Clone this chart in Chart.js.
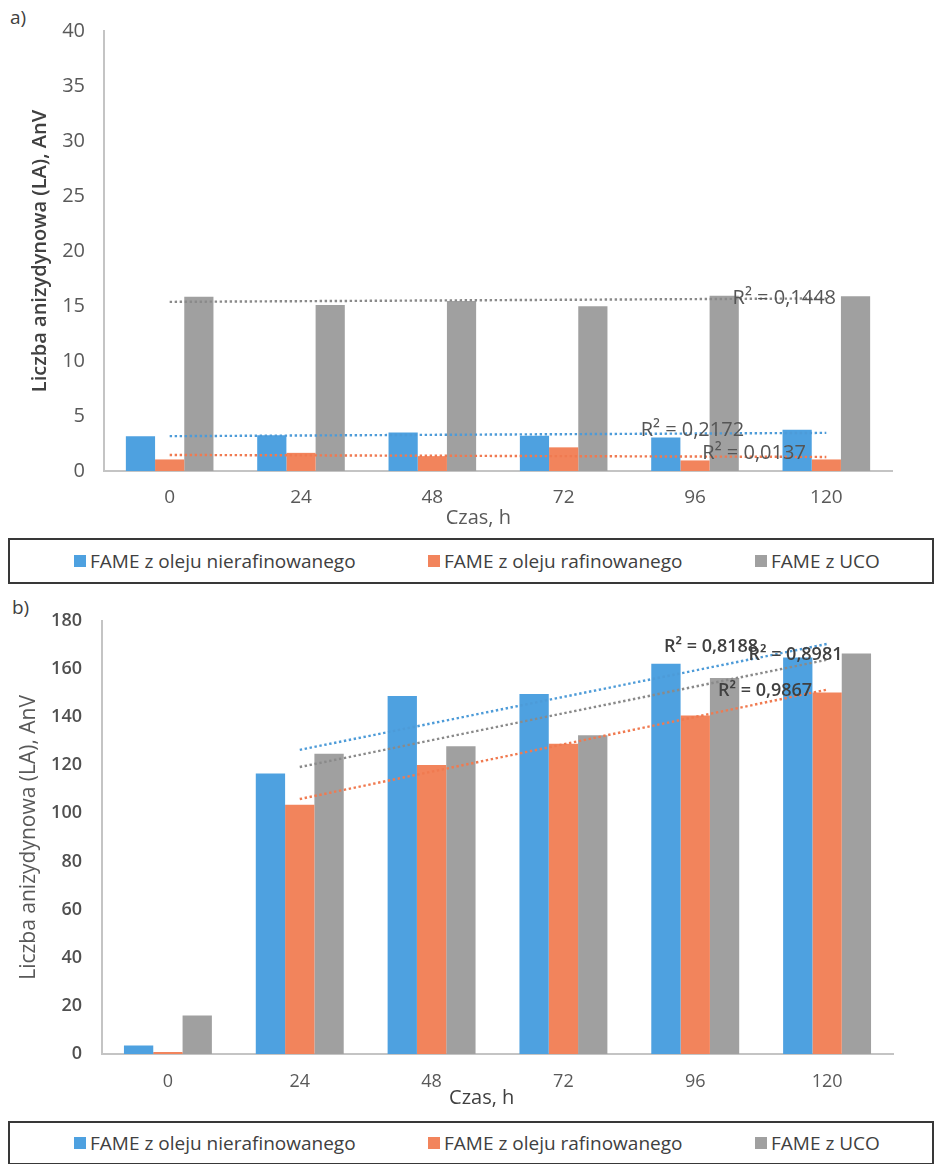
<!DOCTYPE html>
<html lang="pl">
<head>
<meta charset="utf-8">
<title>Liczba anizydynowa FAME</title>
<script src="https://cdn.jsdelivr.net/npm/chart.js@4/dist/chart.umd.min.js"></script>
<style>
  html, body { margin: 0; padding: 0; background: #fff; }
  body { width: 936px; height: 1164px; position: relative; overflow: hidden; font-family: "Open Sans", sans-serif; }
  .panel { position: absolute; left: 0; }
  .tag { position: absolute; font-size: 19px; color: #404040; line-height: 24px; }
  .legend { position: absolute; left: 8px; width: 926px; box-sizing: border-box; border: 2.5px solid #383838; background: #fff; }
  .item { position: absolute; top: 50%; transform: translateY(-50%); display: flex; align-items: center; font-size: 19px; color: #404040; white-space: nowrap; line-height: 24px; }
  .sw { width: 12px; height: 12px; margin-right: 4px; flex: none; }
</style>
</head>
<body>
<div class="tag" style="left:10px; top:5px;">a)</div>
<div class="panel" style="top:0; width:936px; height:530px;"><canvas id="chartA" width="936" height="530"></canvas></div>
<div class="legend" id="legendA" style="top:538px; height:46px;"></div>

<div class="tag" style="left:12px; top:595px;">b)</div>
<div class="panel" style="top:590px; width:936px; height:528px;"><canvas id="chartB" width="936" height="528"></canvas></div>
<div class="legend" id="legendB" style="top:1121px; height:44px;"></div>

<script>
// Time points (h)
const categories = ['0', '24', '48', '72', '96', '120'];
const seriesNames = ['FAME z oleju nierafinowanego', 'FAME z oleju rafinowanego', 'FAME z UCO'];
const seriesColors = ['#4ea1e0', '#f2845c', '#a0a0a0'];
const trendColors = ['#4d9bd8', '#f07a50', '#8a8a8a'];

// a) anisidine value, early range
const aUnrefined = [3.15, 3.25, 3.5, 3.2, 3.05, 3.75];
const aRefined   = [1.05, 1.65, 1.35, 2.15, 0.96, 1.05];
const aUco       = [15.85, 15.1, 15.45, 14.98, 15.94, 15.88];
const aR2Labels  = ['R² = 0,2172', 'R² = 0,0137', 'R² = 0,1448'];
const aAxisMax = 40, aAxisStep = 5;

// b) anisidine value, full range
const bUnrefined = [3.5, 116.5, 148.8, 149.6, 162.2, 164.8];
const bRefined   = [0.8, 103.6, 120.1, 128.9, 140.6, 150.2];
const bUco       = [16.0, 124.8, 127.9, 132.4, 156.2, 166.4];
const bR2Labels  = ['R² = 0,8188', 'R² = 0,9867', 'R² = 0,8981'];
const bAxisMax = 180, bAxisStep = 20;

const yTitle = 'Liczba anizydynowa (LA), AnV';
const xTitle = 'Czas, h';

// least-squares line through the points from index `from` onwards
function linearTrend(values, from) {
  const xs = [], ys = [];
  for (let i = from; i < values.length; i++) { xs.push(i); ys.push(values[i]); }
  const n = xs.length;
  const mx = xs.reduce((s, v) => s + v, 0) / n;
  const my = ys.reduce((s, v) => s + v, 0) / n;
  let sxy = 0, sxx = 0;
  for (let k = 0; k < n; k++) { sxy += (xs[k] - mx) * (ys[k] - my); sxx += (xs[k] - mx) ** 2; }
  const slope = sxy / sxx, icpt = my - slope * mx;
  return values.map((_, i) => (i < from ? null : icpt + slope * i));
}

// draws R² notes and the horizontal axis title
const notesPlugin = {
  id: 'notes',
  afterDatasetsDraw(chart, args, opts) {
    const { ctx, chartArea } = chart;
    const xs = chart.scales.x, ys = chart.scales.y;
    const idxToPx = (f) => {
      const i0 = Math.floor(f), p0 = xs.getPixelForValue(i0), p1 = xs.getPixelForValue(i0 + 1);
      return p0 + (p1 - p0) * (f - i0);
    };
    ctx.save();
    ctx.textAlign = 'center';
    ctx.textBaseline = 'middle';
    (opts.labels || []).forEach(l => {
      ctx.font = l.font;
      ctx.fillStyle = l.color;
      ctx.fillText(l.text, idxToPx(l.at), ys.getPixelForValue(l.value));
    });
    if (opts.xTitle) {
      const t = opts.xTitle;
      ctx.font = t.font;
      ctx.fillStyle = t.color;
      ctx.fillText(t.text, idxToPx(t.at), chartArea.bottom + t.dy);
    }
    ctx.restore();
  }
};

function buildChart(canvasId, series, trendFrom, axisMax, axisStep, look) {
  const datasets = [];
  series.forEach((vals, k) => {
    datasets.push({
      type: 'bar', label: seriesNames[k], data: vals,
      backgroundColor: seriesColors[k], borderWidth: 0,
      categoryPercentage: 0.667, barPercentage: 1.0, order: 2
    });
  });
  series.forEach((vals, k) => {
    datasets.push({
      type: 'line', label: 'trend ' + seriesNames[k], data: linearTrend(vals, trendFrom),
      borderColor: trendColors[k], borderWidth: 2.4, borderDash: [2.4, 2.6],
      pointRadius: 0, fill: false, tension: 0, order: 1
    });
  });
  return new Chart(document.getElementById(canvasId), {
    type: 'bar',
    data: { labels: categories, datasets },
    options: {
      responsive: false, animation: false, devicePixelRatio: 1,
      layout: { padding: look.padding },
      plugins: {
        legend: { display: false }, tooltip: { enabled: false },
        notes: { labels: look.notes, xTitle: look.xTitle }
      },
      scales: {
        x: {
          grid: { display: false, drawTicks: false },
          border: { display: true, color: '#c4c4c4', width: 2 },
          ticks: { color: look.xTickColor, font: look.xTickFont, padding: look.xTickPad },
          afterFit: s => { s.height = look.xHeight; }
        },
        y: {
          min: 0, max: axisMax,
          grid: { display: false, drawTicks: false },
          border: { display: true, color: '#c4c4c4', width: 2 },
          ticks: { stepSize: axisStep, color: look.yTickColor, font: look.yTickFont, padding: look.yTickPad },
          title: { display: true, text: yTitle, color: look.yTitleColor, font: look.yTitleFont, padding: 0 },
          afterFit: s => { s.width = look.yWidth; }
        }
      }
    },
    plugins: [notesPlugin]
  });
}

const fam = '"Open Sans", sans-serif';

buildChart('chartA', [aUnrefined, aRefined, aUco], 0, aAxisMax, aAxisStep, {
  padding: { left: 28, top: 25, right: 44, bottom: 0 },
  yWidth: 76, xHeight: 59,
  xTickFont: { family: fam, size: 19 }, xTickColor: '#595959', xTickPad: 15,
  yTickFont: { family: fam, size: 20 }, yTickColor: '#595959', yTickPad: 19,
  yTitleFont: { family: fam, size: 20, weight: '600', lineHeight: 1.2 }, yTitleColor: '#404040',
  xTitle: { text: xTitle, at: 2.35, dy: 47, font: '20px ' + fam, color: '#595959' },
  notes: [
    { text: aR2Labels[0], at: 3.98, value: 3.66, font: '20px ' + fam, color: '#555555' },
    { text: aR2Labels[1], at: 4.45, value: 1.62, font: '20px ' + fam, color: '#555555' },
    { text: aR2Labels[2], at: 4.68, value: 15.7, font: '20px ' + fam, color: '#555555' }
  ]
});

buildChart('chartB', [bUnrefined, bRefined, bUco], 1, bAxisMax, bAxisStep, {
  padding: { left: 16, top: 18, right: 43, bottom: 0 },
  yWidth: 86, xHeight: 64,
  xTickFont: { family: fam, size: 18 }, xTickColor: '#595959', xTickPad: 17,
  yTickFont: { family: fam, size: 18, weight: '600' }, yTickColor: '#505050', yTickPad: 20,
  yTitleFont: { family: fam, size: 21, lineHeight: 1.2 }, yTitleColor: '#595959',
  xTitle: { text: xTitle, at: 2.38, dy: 44, font: '20px ' + fam, color: '#404040' },
  notes: [
    { text: bR2Labels[0], at: 4.12, value: 169.1, font: '600 18px ' + fam, color: '#404040' },
    { text: bR2Labels[1], at: 4.53, value: 150.9, font: '600 18px ' + fam, color: '#404040' },
    { text: bR2Labels[2], at: 4.76, value: 165.9, font: '600 18px ' + fam, color: '#404040' }
  ]
});

// legend boxes under each panel
const itemLeft = [64, 418, 745];
function buildLegend(id) {
  const box = document.getElementById(id);
  seriesNames.forEach((name, k) => {
    const it = document.createElement('div');
    it.className = 'item';
    it.style.left = itemLeft[k] + 'px';
    const sw = document.createElement('span');
    sw.className = 'sw';
    sw.style.background = seriesColors[k];
    const tx = document.createElement('span');
    tx.textContent = name;
    it.appendChild(sw);
    it.appendChild(tx);
    box.appendChild(it);
  });
}
buildLegend('legendA');
buildLegend('legendB');
</script>
</body>
</html>
